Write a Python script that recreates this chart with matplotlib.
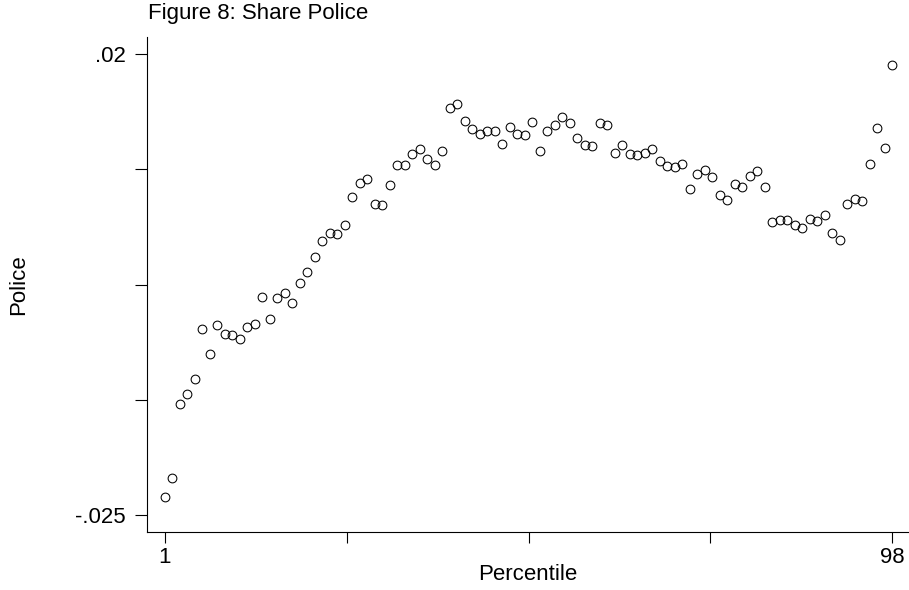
import numpy as np
import matplotlib
matplotlib.use("Agg")
import matplotlib.pyplot as plt

plt.rcParams['font.family'] = ['Liberation Sans', 'DejaVu Sans']

# percentile 1..98 and the police share
percentile = np.arange(1, 99)
police = [
    -0.02324, -0.02143, -0.01420, -0.01316, -0.01172, -0.00688, -0.00925, -0.00649, -0.00737, -0.00740,
    -0.00779, -0.00662, -0.00633, -0.00376, -0.00587, -0.00382, -0.00337, -0.00434, -0.00239, -0.00128,
    0.00015, 0.00171, 0.00256, 0.00243, 0.00334, 0.00607, 0.00744, 0.00776, 0.00532, 0.00522,
    0.00717, 0.00915, 0.00917, 0.01027, 0.01069, 0.00975, 0.00919, 0.01056, 0.01476, 0.01508,
    0.01346, 0.01268, 0.01222, 0.01248, 0.01248, 0.01118, 0.01287, 0.01219, 0.01212, 0.01336,
    0.01049, 0.01245, 0.01310, 0.01381, 0.01326, 0.01176, 0.01115, 0.01102, 0.01326, 0.01303,
    0.01030, 0.01112, 0.01020, 0.01017, 0.01032, 0.01076, 0.00952, 0.00903, 0.00900, 0.00926,
    0.00678, 0.00829, 0.00868, 0.00799, 0.00624, 0.00575, 0.00731, 0.00705, 0.00805, 0.00858,
    0.00698, 0.00356, 0.00383, 0.00383, 0.00327, 0.00302, 0.00392, 0.00373, 0.00425, 0.00256,
    0.00181, 0.00539, 0.00588, 0.00568, 0.00929, 0.01278, 0.01085, 0.01896,
]

xticks = [1, 25.25, 49.5, 73.75, 98]
xticklabels = ['1', '', '', '', '98']
yticks = [-0.025, -0.01375, -0.0025, 0.00875, 0.02]
yticklabels = ['-.025', '', '', '', '.02']

fs = 16

fig = plt.figure(figsize=(9.09, 5.9), dpi=100)
ax = fig.add_axes([147/909, 1 - 532/590, 761/909, 495/590])

ax.plot(percentile, police, linestyle='none', marker='o', markersize=6.3,
        markerfacecolor='none', markeredgecolor='black', markeredgewidth=0.75)

ax.set_xlim(-1.4, 100.1)
ax.set_ylim(-0.02666, 0.02166)
ax.set_xticks(xticks)
ax.set_xticklabels(xticklabels)
ax.set_yticks(yticks)
ax.set_yticklabels(yticklabels)

for s in ['top', 'right']:
    ax.spines[s].set_visible(False)
for s in ['left', 'bottom']:
    ax.spines[s].set_linewidth(0.8)
ax.tick_params(axis='both', direction='out', width=0.8, labelsize=fs, colors='black')
ax.tick_params(axis='y', length=8.5, pad=7)
ax.tick_params(axis='x', length=8, pad=3)

ax.set_xlabel('Percentile', fontsize=fs, va='center')
ax.xaxis.set_label_coords(0.5, (532 - 574) / 495)
ax.set_ylabel('Police', fontsize=fs, va='center')
ax.yaxis.set_label_coords((19 - 147) / 761, 0.5)

fig.text(148/909, 1 - 14/590, 'Figure 8: Share Police', fontsize=fs, ha='left', va='center')

fig.savefig('out.png', dpi=100)
